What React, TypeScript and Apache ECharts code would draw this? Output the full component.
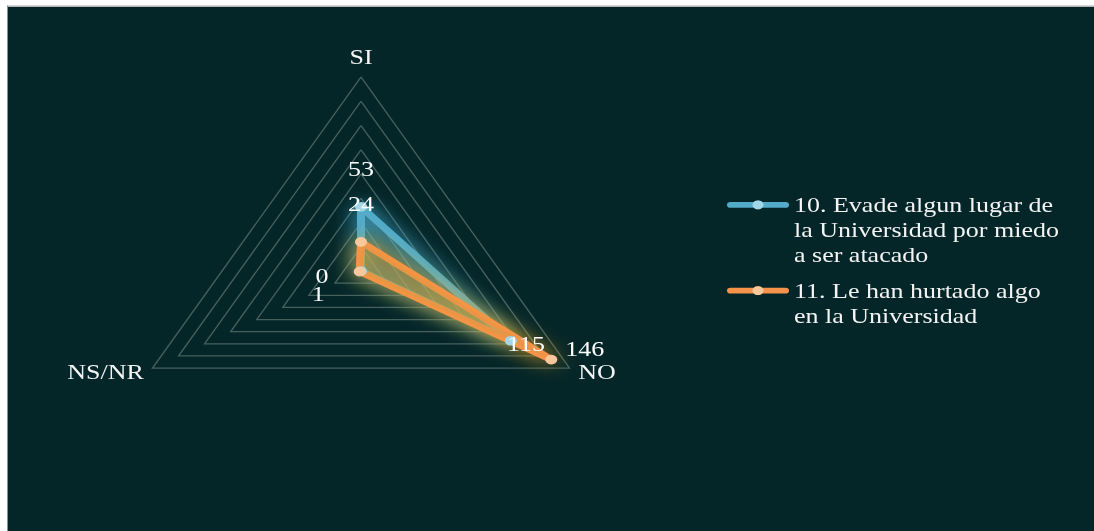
import React, { useEffect, useRef } from 'react';
import * as echarts from 'echarts';

// ---- data (indicator order as drawn counter-clockwise from the top: SI, NS/NR, NO) ----
const categories = ['SI', 'NS/NR', 'NO'];
const seriesNames = [
  '10. Evade algun lugar de la Universidad por miedo a ser atacado',
  '11. Le han hurtado algo en la Universidad',
];
const legendLines = [
  ['10. Evade algun lugar de', 'la Universidad por miedo', 'a ser atacado'],
  ['11. Le han hurtado algo', 'en la Universidad'],
];
const evadeValues = [53, 0, 115];
const hurtoValues = [24, 1, 146];
const axisMax = 160;
const splitCount = 8;

// ---- style ----
const SQUISH = 531 / 659;
const SERIF = "'Liberation Serif', 'Times New Roman', 'DejaVu Serif', serif";
const BG = '#052628';
const TEXT = '#f4f4f4';
const BLUE = '#52abc8';
const BLUE_LIGHT = '#a3d6e6';
const ORANGE = '#f5934a';
const ORANGE_LIGHT = '#f9c79c';
// per-axis label paddings [top, right, bottom, left] to place value labels (same order as categories)
const evadeLabelPads = [[0, 0, 94, 0], [12, 78, 0, 0], [8, 0, 0, 30]];
const hurtoLabelPads = [[0, 0, 94, 0], [55, 83, 0, 0], [0, 0, 27, 67]];

const ICON =
  'path://M27,2.5 L27,9.5 L3.5,9.5 A3.5,3.5 0 0 1 3.5,2.5 Z ' +
  'M25.5,6 A5.5,5.5 0 1 1 36.5,6 A5.5,5.5 0 1 1 25.5,6 Z ' +
  'M35,2.5 L58.5,2.5 A3.5,3.5 0 0 1 58.5,9.5 L35,9.5 Z';

function rich(pads: number[][]) {
  const r: Record<string, any> = {};
  pads.forEach((p, i) => {
    r['d' + i] = { padding: p, fontSize: 26, fontFamily: SERIF, color: '#ffffff' };
  });
  return r;
}

function labelFor(values: number[], pads: number[][]) {
  return {
    show: true,
    position: 'inside',
    fontSize: 26,
    fontFamily: SERIF,
    color: '#ffffff',
    formatter: (p: any) => {
      const idx = p.dimensionIndex != null ? p.dimensionIndex : values.indexOf(p.value);
      return `{d${idx}|${p.value}}`;
    },
    rich: rich(pads),
  };
}

// blank lines in front keep the icon level with the first text line
const legendText = (name: string) => {
  const lines = legendLines[seriesNames.indexOf(name)];
  return new Array(lines.length - 1).fill('').concat(lines).join('\n');
};

const legendBase = {
  orient: 'vertical',
  left: 719,
  padding: 0,
  itemWidth: 62,
  itemHeight: 11,
  itemGap: 0,
  icon: ICON,
  selectedMode: false,
  formatter: legendText,
  textStyle: { color: TEXT, fontSize: 26, fontFamily: SERIF, lineHeight: 31 },
};

const option: any = {
  animation: false,
  backgroundColor: BG,
  legend: [
    { ...legendBase, top: 168.8, data: [{ name: seriesNames[0], itemStyle: { color: BLUE } }] },
    { ...legendBase, top: 306.2, data: [{ name: seriesNames[1], itemStyle: { color: ORANGE } }] },
  ],
  graphic: [
    { type: 'circle', left: 719 + 31 - 5.5, top: 246.3 - 5.5, shape: { r: 5.5 }, style: { fill: BLUE_LIGHT }, z: 100 },
    { type: 'circle', left: 719 + 31 - 5.5, top: 352.7 - 5.5, shape: { r: 5.5 }, style: { fill: ORANGE_LIGHT }, z: 100 },
  ],
  radar: {
    center: [353, 328.4],
    radius: 240.8,
    startAngle: 90,
    shape: 'polygon',
    splitNumber: splitCount,
    nameGap: 10,
    indicator: categories.map((name) => ({ name, min: 0, max: axisMax })),
    axisName: {
      color: TEXT,
      fontSize: 26,
      fontFamily: SERIF,
      formatter: (name: string) => (name === categories[0] ? `{t|${name}}` : `{b|${name}}`),
      rich: {
        t: { fontSize: 26, fontFamily: SERIF, color: TEXT, lineHeight: 31 },
        b: { fontSize: 26, fontFamily: SERIF, color: TEXT, lineHeight: 2 },
      },
    },
    splitLine: { lineStyle: { color: '#455f5d', width: 1.5 } },
    splitArea: { show: false },
    axisLine: { show: false },
    axisTick: { show: false },
    axisLabel: { show: false },
  },
  series: [
    {
      type: 'radar',
      symbol: 'circle',
      symbolSize: 12,
      data: [
        {
          name: seriesNames[0],
          value: evadeValues,
          lineStyle: { color: BLUE, width: 8, shadowColor: 'rgba(70,190,230,1)', shadowBlur: 22 },
          itemStyle: { color: BLUE_LIGHT },
          areaStyle: { color: 'rgba(90,175,200,0.38)', shadowColor: 'rgba(60,170,210,1)', shadowBlur: 30 },
          label: labelFor(evadeValues, evadeLabelPads),
        },
        {
          name: seriesNames[1],
          value: hurtoValues,
          lineStyle: { color: ORANGE, width: 8, shadowColor: 'rgba(250,175,30,1)', shadowBlur: 22 },
          itemStyle: { color: ORANGE_LIGHT },
          areaStyle: { color: 'rgba(190,150,60,0.3)', shadowColor: 'rgba(235,165,30,1)', shadowBlur: 30 },
          label: labelFor(hurtoValues, hurtoLabelPads),
        },
      ],
    },
  ],
};

export default function App() {
  const ref = useRef<HTMLDivElement>(null);
  useEffect(() => {
    const chart = echarts.init(ref.current as HTMLDivElement, null, { renderer: 'svg' });
    chart.setOption(option);
    return () => chart.dispose();
  }, []);
  return (
    <div style={{ position: 'fixed', left: 0, top: 0, width: 1094, height: 531, overflow: 'hidden', background: '#ffffff' }}>
      <div
        style={{
          position: 'absolute',
          left: 0,
          top: 0,
          width: 1094,
          height: 659,
          transform: `scaleY(${SQUISH})`,
          transformOrigin: '0 0',
        }}
      >
        <div
          ref={ref}
          style={{
            position: 'absolute',
            left: 7,
            top: 7,
            width: 1100,
            height: 700,
            borderTop: '1px solid #8f8f8f',
            borderLeft: '1px solid #8f8f8f',
          }}
        />
      </div>
    </div>
  );
}
